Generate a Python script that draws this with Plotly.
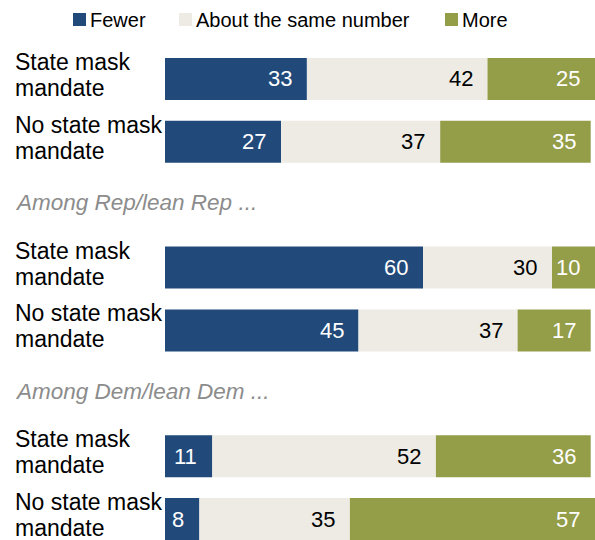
import plotly.graph_objects as go

row_line1 = ["State mask", "No state mask", "State mask", "No state mask", "State mask", "No state mask"]
row_line2 = ["mandate"] * 6
row_pos = [0, 1, 3, 4, 6, 7]
fewer = [33, 27, 60, 45, 11, 8]
same = [42, 37, 30, 37, 52, 35]
more = [25, 35, 10, 17, 36, 57]
group_labels = ["Among Rep/lean Rep ...", "Among Dem/lean Dem ..."]
group_pos = [2, 5]
legend_names = ["Fewer", "About the same number", "More"]

colors = ["#214a7b", "#edebe4", "#949d48"]
text_colors = ["white", "black", "white"]
series = [fewer, same, more]

FONT = "Liberation Sans, Arial, sans-serif"
L, T, W, H = 165, 58, 430, 482

def px_x(px):
    return (px - L) / W

def px_y(py):
    return 1 - (py - T) / H

fig = go.Figure()
base = [0] * len(row_pos)
annots = []
for name, vals, color, tc in zip(legend_names, series, colors, text_colors):
    fig.add_trace(go.Bar(y=row_pos, x=vals, base=base, orientation="h", name=name,
                         marker=dict(color=color, line=dict(width=0)), width=0.667,
                         showlegend=False, hoverinfo="skip"))
    for yp, b, v in zip(row_pos, base, vals):
        annots.append(dict(x=b + v, y=yp, xref="x", yref="y", text=str(v), showarrow=False,
                           xanchor="right", yanchor="middle", xshift=-13, yshift=0,
                           font=dict(size=22, color=tc, family=FONT)))
    base = [b + v for b, v in zip(base, vals)]

for yp, t1, t2 in zip(row_pos, row_line1, row_line2):
    for t, ys in ((t1, 17), (t2, -9)):
        annots.append(dict(x=px_x(13), y=yp, xref="paper", yref="y", text=t, showarrow=False,
                           xanchor="left", yanchor="middle", yshift=ys,
                           font=dict(size=23, color="black", family=FONT)))
for yp, t in zip(group_pos, group_labels):
    annots.append(dict(x=px_x(13), y=yp, xref="paper", yref="y", text="<i>" + t + "</i>",
                       showarrow=False, xanchor="left", yanchor="middle", yshift=2,
                       font=dict(size=22.5, color="#8c8c8c", family=FONT)))

shapes = []
legend_sq = [73, 179, 445]
for name, color, sx in zip(legend_names, colors, legend_sq):
    shapes.append(dict(type="rect", xref="paper", yref="paper",
                       x0=px_x(sx), x1=px_x(sx + 13), y0=px_y(26), y1=px_y(13),
                       fillcolor=color, line=dict(width=0)))
    annots.append(dict(x=px_x(sx + 15), y=px_y(19.5), xref="paper", yref="paper",
                       yanchor="middle", xanchor="left", showarrow=False, text=name,
                       font=dict(size=20, color="black", family=FONT)))

fig.update_layout(
    width=595, height=540, margin=dict(l=L, r=0, t=T, b=0),
    plot_bgcolor="white", paper_bgcolor="white", barmode="overlay",
    xaxis=dict(range=[0, 100], visible=False, fixedrange=True),
    yaxis=dict(range=[7.3333, -0.3333], visible=False, fixedrange=True),
    annotations=annots, shapes=shapes,
)
fig.write_html("out.html", config={"displayModeBar": False},
               post_script="document.body.style.margin='0';document.body.style.overflow='hidden';")
